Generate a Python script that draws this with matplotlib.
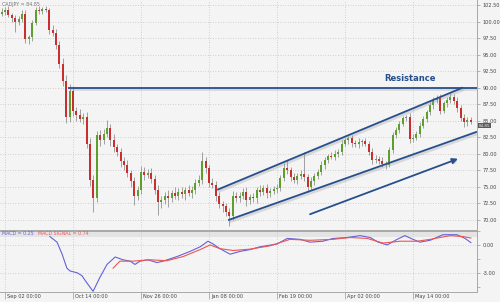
import matplotlib
matplotlib.use("Agg")
import matplotlib.pyplot as plt
import matplotlib.patheffects as pe
import matplotlib.transforms as mtransforms
import numpy as np

# daily candles (bar index 0..138)
closes = [
    101.5, 101.8, 101.0, 100.5, 100.0, 100.4, 101.2, 97.3, 97.6, 99.8,
    101.8, 101.6, 101.9, 101.7, 98.7, 98.3, 96.5, 93.6, 91.0, 85.5,
    89.5, 86.5, 85.8, 85.3, 85.5, 81.5, 76.0, 73.2, 82.8, 82.0,
    83.0, 83.8, 82.0, 81.0, 80.2, 78.8, 78.2, 77.0, 75.8, 73.6,
    74.5, 77.2, 76.8, 77.0, 76.2, 74.5, 72.6, 73.0, 73.6, 73.2,
    74.0, 73.6, 74.2, 73.9, 74.4, 74.0, 74.5, 75.6, 76.0, 78.9,
    77.8, 75.6, 75.3, 73.5, 72.4, 72.0, 71.2, 70.5, 73.6, 73.3,
    73.6, 74.2, 73.0, 73.4, 73.2, 74.5, 74.2, 74.8, 74.0, 74.3,
    74.6, 74.8, 76.3, 77.8, 77.5, 76.5, 76.0, 76.6, 76.9, 76.4,
    75.0, 75.8, 76.6, 77.2, 78.2, 79.0, 79.6, 79.5, 80.0, 80.3,
    81.5, 82.0, 82.3, 81.6, 81.4, 81.7, 81.9, 81.5, 80.3, 79.0,
    79.2, 78.8, 78.4, 78.3, 80.6, 82.8, 83.6, 84.5, 85.4, 85.5,
    82.2, 82.4, 83.0, 84.2, 85.3, 86.3, 87.3, 88.1, 88.4, 86.5,
    87.6, 88.1, 88.6, 88.0, 86.9, 85.4, 84.7, 85.1, 84.85,
]
first_open = 101.2
wick_up = [
    0.5, 0.4, 0.6, 0.3, 0.5, 0.4, 0.5, 0.6, 0.4, 0.5,
    0.4, 0.6, 0.3, 0.5, 0.4, 0.7, 0.5, 0.6, 0.8, 0.9,
    1.0, 0.8, 0.6, 0.9, 0.7, 0.8, 0.9, 0.7, 0.6, 0.8,
    0.7, 1.3, 0.6, 0.9, 0.5, 0.7, 0.6, 0.8, 0.5, 0.7,
    0.6, 0.9, 0.7, 0.6, 0.8, 0.5, 0.7, 0.6, 0.5, 0.8,
    0.5, 0.9, 0.6, 0.7, 0.5, 0.8, 0.6, 0.5, 0.7, 1.3,
    0.6, 0.5, 0.7, 0.5, 0.6, 0.4, 0.5, 0.6, 0.7, 0.5,
    0.6, 0.5, 0.8, 0.4, 0.6, 0.5, 0.7, 0.5, 0.6, 0.4,
    0.5, 0.6, 0.5, 0.7, 1.2, 0.5, 0.6, 0.4, 0.6, 3.3,
    0.5, 0.6, 0.4, 0.5, 0.6, 0.5, 0.4, 0.6, 0.5, 0.4,
    0.5, 0.4, 0.4, 0.5, 0.4, 0.6, 0.3, 0.5, 0.4, 0.6,
    0.5, 0.4, 0.6, 0.5, 0.4, 0.5, 0.4, 0.5, 0.3, 0.4,
    0.6, 0.5, 0.4, 0.5, 0.4, 0.3, 0.5, 0.4, 0.5, 0.6,
    0.4, 0.5, 0.6, 0.4, 0.5, 0.4, 0.6, 0.5, 0.4,
]
wick_dn = [
    0.4, 0.5, 0.3, 0.6, 1.6, 0.5, 0.4, 0.6, 0.7, 0.5,
    0.3, 0.5, 0.4, 0.3, 0.6, 0.5, 0.7, 0.6, 0.8, 0.9,
    0.7, 0.8, 0.9, 0.6, 0.8, 0.7, 0.9, 2.1, 0.6, 0.8,
    0.6, 0.5, 0.8, 0.7, 0.6, 0.9, 0.7, 0.6, 0.9, 1.4,
    0.7, 0.6, 0.8, 0.5, 0.7, 0.6, 1.9, 0.8, 0.6, 1.3,
    0.6, 0.5, 0.7, 0.6, 1.0, 0.5, 0.7, 0.6, 0.5, 0.6,
    0.7, 0.6, 0.5, 0.7, 0.6, 0.8, 0.6, 1.5, 0.5, 0.7,
    0.6, 0.5, 0.9, 0.6, 0.5, 0.7, 0.6, 0.5, 0.8, 0.6,
    0.5, 0.6, 0.5, 0.4, 0.6, 0.7, 0.5, 0.6, 0.4, 0.5,
    0.8, 0.5, 0.6, 0.4, 0.5, 0.6, 0.5, 0.4, 0.5, 0.6,
    0.5, 0.4, 0.5, 0.6, 0.4, 0.5, 0.6, 0.4, 0.5, 0.6,
    0.5, 0.4, 0.5, 0.6, 0.4, 0.5, 0.4, 0.5, 0.4, 0.5,
    0.6, 0.5, 0.4, 0.5, 0.4, 0.5, 0.4, 0.5, 0.4, 0.5,
    0.4, 0.5, 0.4, 0.5, 0.6, 0.5, 0.7, 0.5, 0.4,
]

# MACD lines (bar position, value)
macd_x = [14.2, 16.3, 17.8, 19.2, 20.1, 22.2, 23.6, 25.1, 26.9, 28.9, 31.0, 33.4,
          35.7, 37.8, 39.2, 40.7, 43.0, 45.7, 47.5, 51.6, 55.4, 58.4, 60.7, 62.2,
          64.2, 67.2, 70.1, 73.1, 76.0, 81.0, 84.0, 87.8, 90.7, 94.5, 97.5, 101.6,
          105.4, 108.4, 110.7, 113.4, 116.3, 118.6, 121.0, 123.0, 126.0, 129.8,
          133.9, 136.3, 138.0]
macd_v = [0.9, 0.3, -1.0, -2.5, -2.8, -3.0, -3.3, -4.1, -5.0, -3.5, -2.1, -1.3,
          -1.6, -1.75, -2.1, -1.75, -1.6, -1.9, -1.75, -1.25, -0.7, -0.2, 0.4, 0.1,
          -0.4, -1.0, -0.7, -0.5, -0.2, 0.1, 0.7, 0.6, 0.3, 0.4, 0.7, 0.8,
          1.0, 0.8, 0.3, 0.0, 0.6, 1.0, 0.6, 0.3, 0.5, 1.1,
          1.1, 0.7, 0.25]
signal_x = [32.8, 34.8, 38.6, 43.6, 48.6, 53.4, 58.4, 61.3, 64.2, 68.1, 73.1, 78.9,
            84.8, 90.7, 97.5, 102.5, 107.5, 112.2, 117.2, 122.2, 126.0, 131.9, 135.7, 138.0]
signal_v = [-2.5, -1.75, -1.75, -1.6, -1.7, -1.25, -0.5, 0.0, -0.4, -0.6, -0.45, -0.1,
            0.6, 0.5, 0.6, 0.8, 0.7, 0.2, 0.4, 0.4, 0.6, 1.0, 0.9, 0.74]

date_idx = [1, 21, 41, 61, 81, 101, 121]
date_labels = ["Sep 02 00:00", "Oct 14 00:00", "Nov 26 00:00", "Jan 08 00:00",
               "Feb 19 00:00", "Apr 02 00:00", "May 14 00:00"]
price_ticks = [70.0, 72.5, 75.0, 77.5, 80.0, 82.5, 85.0, 87.5, 90.0, 92.5, 95.0, 97.5, 100.0, 102.5]

# drawn lines (bar position, price)
resistance = ([19.5, 140.0], [90.0, 90.0])
upper_chan = ([63.4, 135.7], [74.5, 90.0])
lower_chan = ([66.6, 139.8], [69.9, 83.3])
arrow_from = (90.7, 70.8)
arrow_to = (134.2, 79.2)

BG = "#f4f4f4"
NAVY = "#264f8c"
GRID = "#c4c4c4"
TXT = "#444444"

fig = plt.figure(figsize=(5, 3.02), dpi=100, facecolor=BG)
ax1 = fig.add_axes([0, 72 / 302, 477 / 500, 230 / 302], facecolor=BG)
ax2 = fig.add_axes([0, 10 / 302, 477 / 500, 61 / 302], facecolor=BG)

n = len(closes)
idx = np.arange(n)
opens = [first_open] + closes[:-1]
highs = [max(o, c) + w for o, c, w in zip(opens, closes, wick_up)]
lows = [min(o, c) - w for o, c, w in zip(opens, closes, wick_dn)]

ax1.vlines(idx, lows, highs, color="#a0a0a0", lw=0.7, zorder=2)
up = [c >= o for o, c in zip(opens, closes)]
bottoms = [min(o, c) for o, c in zip(opens, closes)]
heights = [max(abs(c - o), 0.12) for o, c in zip(opens, closes)]
colors = ["#5c9f2c" if u else "#c92f2f" for u in up]
ax1.bar(idx, heights, bottom=bottoms, width=0.6, color=colors, linewidth=0, zorder=3)

shadow = [pe.SimpleLineShadow(offset=(0.8, -1.3), shadow_color="#9a9a9a", alpha=0.3, linewidth=2.0),
          pe.Normal()]
for xs, ys in (resistance, upper_chan, lower_chan):
    ax1.plot(xs, ys, color=NAVY, lw=1.3, solid_capstyle="butt", zorder=5, path_effects=shadow)
ann = ax1.annotate("", xy=arrow_to, xytext=arrow_from,
                   arrowprops=dict(arrowstyle="-|>", color=NAVY, lw=1.3, mutation_scale=8,
                                   shrinkA=0, shrinkB=0), zorder=5)
ann.arrow_patch.set_path_effects([pe.SimplePatchShadow(offset=(0.8, -1.3), shadow_rgbFace="#9a9a9a", alpha=0.3),
                                  pe.Normal()])
ax1.text(120.1, 91.3, "Resistance", color=NAVY, fontsize=6.0, ha="center", va="center",
         fontweight="bold", zorder=6)

ax1.set_xlim(-0.47, 139.8)
ax1.set_ylim(68.41, 103.26)
ax1.yaxis.tick_right()
ax1.set_yticks(price_ticks)
ax1.set_yticklabels(["%.2f" % p for p in price_ticks])
ax1.set_xticks(date_idx)
ax1.tick_params(axis="x", length=0, labelbottom=False)
ax1.tick_params(axis="y", length=2.2, width=0.5, color="#999999", labelsize=3.6, labelcolor=TXT, pad=2)
ax1.grid(True, color=GRID, linestyle=(0, (1, 2)), lw=0.6)
ax1.set_axisbelow(True)
for s in ("left", "top"):
    ax1.spines[s].set_visible(False)
for s in ("right", "bottom"):
    ax1.spines[s].set_color("#a8a8a8")
    ax1.spines[s].set_linewidth(0.7)

ax1.text(0.004, 0.993, "CADJPY = 84.85", transform=ax1.transAxes, fontsize=3.4, color="#777777",
         ha="left", va="top", zorder=7)
# current price tag sits just under the 85.00 label
tr = mtransforms.blended_transform_factory(ax1.transAxes, ax1.transData)
ax1.text(1.004, 84.2, "%.2f" % closes[-1], transform=tr, fontsize=3.0, color="#e8e8e8",
         ha="left", va="center", clip_on=False,
         bbox=dict(boxstyle="square,pad=0.15", facecolor="#5a5a5a", edgecolor="none"))

# MACD panel
ax2.add_patch(plt.Rectangle((0, 0.9), 1, 0.1, transform=ax2.transAxes, facecolor="#e4e4e4",
                            edgecolor="none", zorder=0))
ax2.plot(macd_x, macd_v, color="#6262d8", lw=0.8, zorder=3)
ax2.plot(signal_x, signal_v, color="#ec5555", lw=0.8, zorder=3)
ax2.set_xlim(-0.47, 139.8)
ax2.set_ylim(-5.07, 1.24)
ax2.yaxis.tick_right()
ax2.set_yticks([0.0, -3.0])
ax2.set_yticklabels(["0.00", "-3.00"])
ax2.set_yticks([1.5, -1.5, -4.5], minor=True)
ax2.tick_params(axis="y", which="both", length=2.2, width=0.5, color="#999999", labelsize=3.6,
                labelcolor=TXT, pad=2)
ax2.set_xticks(date_idx)
ax2.set_xticklabels([])
ax2.tick_params(axis="x", length=5, width=0.5, color="#999999", direction="out")
ax2.grid(True, which="major", color=GRID, linestyle=(0, (1, 2)), lw=0.6)
ax2.set_axisbelow(True)
ax2.spines["left"].set_visible(False)
for s in ("right", "bottom", "top"):
    ax2.spines[s].set_color("#a8a8a8")
    ax2.spines[s].set_linewidth(0.7)

ax2.text(0.004, 0.955, "MACD = 0.25", transform=ax2.transAxes, fontsize=3.4, color="#6262d8",
         ha="left", va="center")
ax2.text(0.08, 0.955, "MACD SIGNAL = 0.74", transform=ax2.transAxes, fontsize=3.4, color="#ec5555",
         ha="left", va="center")

trx = mtransforms.blended_transform_factory(ax2.transData, ax2.transAxes)
for d, lab in zip(date_idx, date_labels):
    ax2.text(d + 0.6, -0.075, lab, transform=trx, fontsize=3.6, color=TXT, ha="left", va="center",
             clip_on=False)

fig.savefig("out.png", dpi=100, facecolor=BG)
